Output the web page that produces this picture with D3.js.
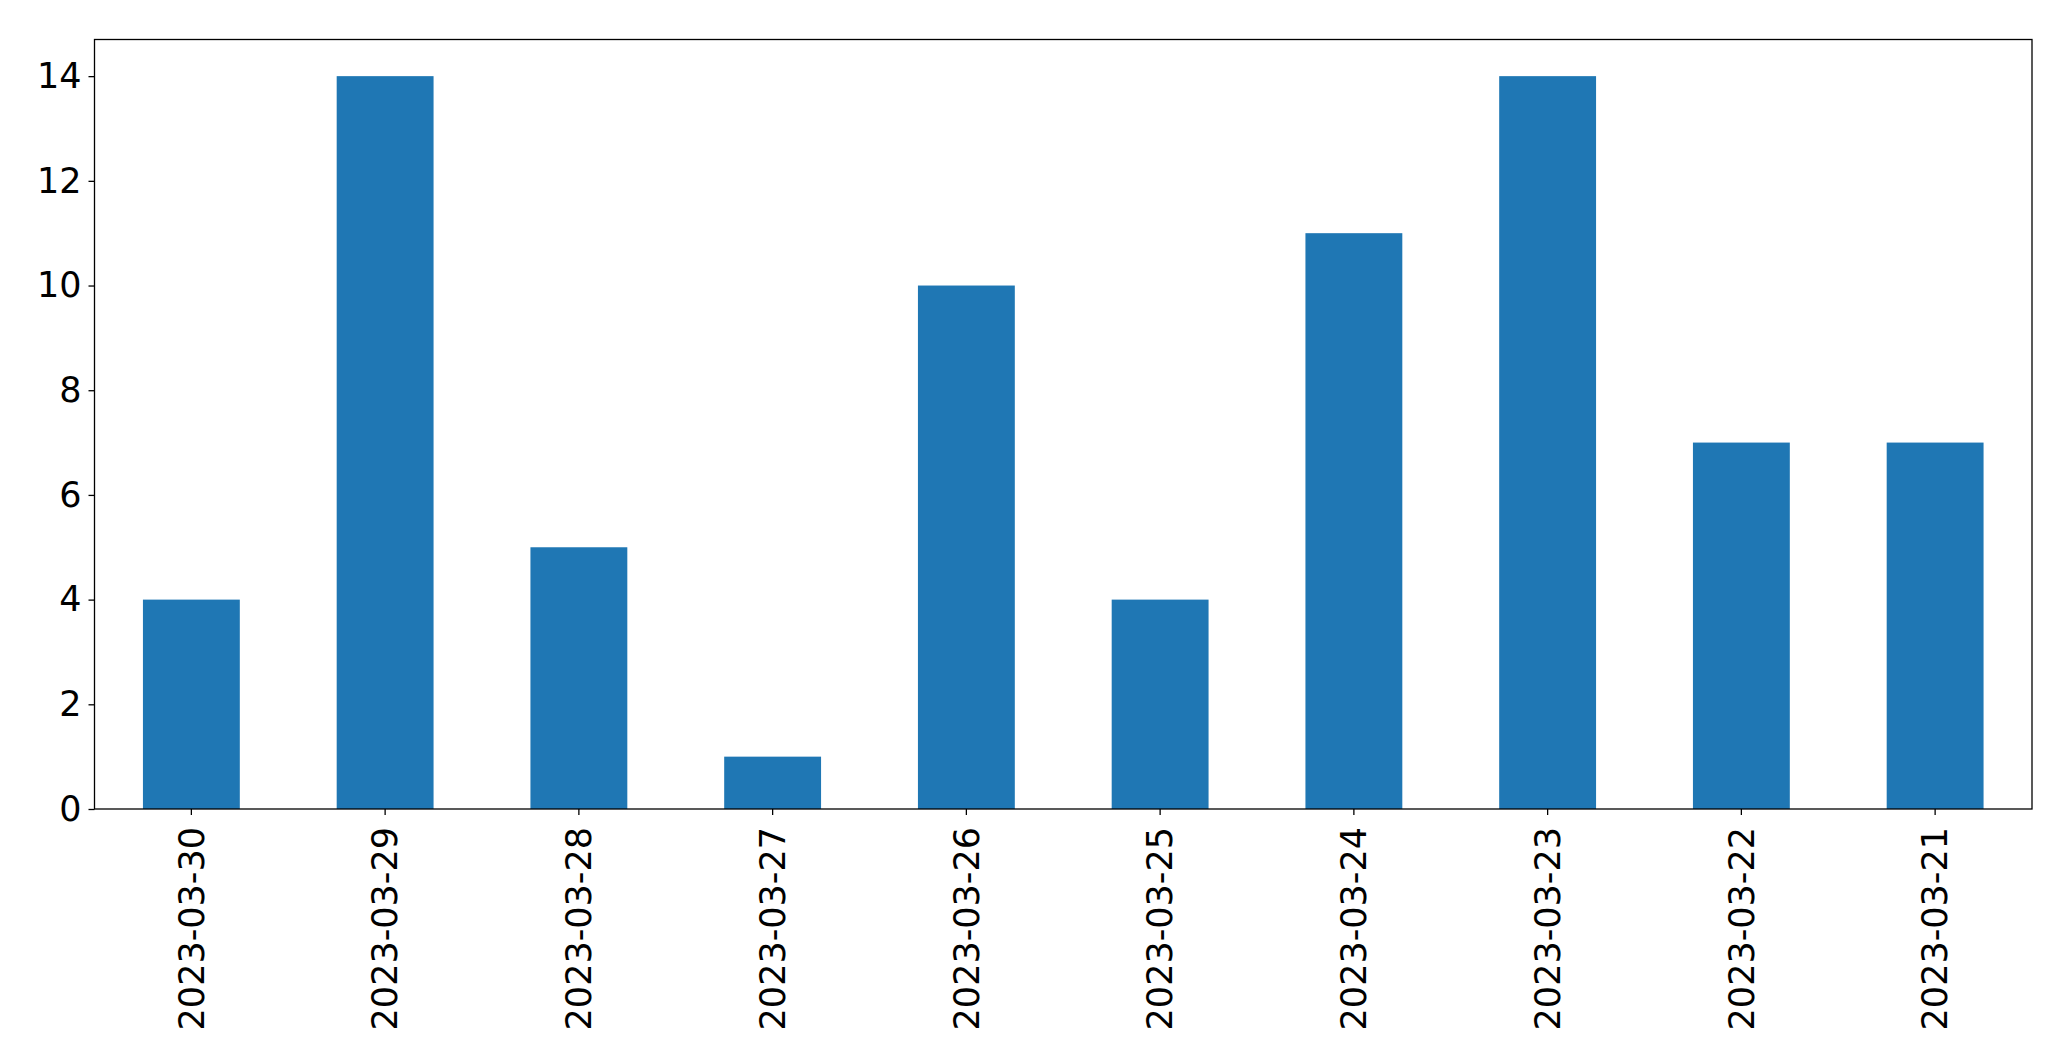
<!DOCTYPE html>
<html lang="en">
<head>
<meta charset="utf-8">
<title>Counts per day</title>
<script src="https://d3js.org/d3.v7.min.js"></script>
<style>
body { margin: 0; background: #fff; }
svg text { font-family: "DejaVu Sans", sans-serif; }
.bar { fill: #1f77b4; }
</style>
</head>
<body>
<svg id="svgMain" width="2071" height="1061"></svg>
<script>

// data
var dates = ["2023-03-30", "2023-03-29", "2023-03-28", "2023-03-27", "2023-03-26",
             "2023-03-25", "2023-03-24", "2023-03-23", "2023-03-22", "2023-03-21"];
var counts = [4, 14, 5, 1, 10, 4, 11, 14, 7, 7];
var yTicks = [0, 2, 4, 6, 8, 10, 12, 14];

var svg = d3.select("svg"),
    margin = {top: 39.5, right: 39, bottom: 252, left: 94.5},
    width = +svg.attr("width") - margin.left - margin.right,
    height = +svg.attr("height") - margin.top - margin.bottom;

var x = d3.scaleBand().domain(dates).range([0, width]).paddingInner(0.5).paddingOuter(0.25),
    y = d3.scaleLinear().domain([0, 14.7]).range([height, 0]);

var g = svg.append("g")
    .attr("transform", "translate(" + margin.left + "," + margin.top + ")");

g.selectAll(".bar")
  .data(counts)
  .enter().append("rect")
    .attr("class", "bar")
    .attr("x", function(d, i) { return x(dates[i]); })
    .attr("y", function(d) { return y(d); })
    .attr("width", x.bandwidth())
    .attr("height", function(d) { return height - y(d); });

// y axis
var yAxis = g.append("g")
    .call(d3.axisLeft(y).tickValues(yTicks).tickSize(6).tickPadding(7));
yAxis.select(".domain").remove();
yAxis.selectAll("line").attr("stroke", "#000").attr("stroke-width", 1.3);
yAxis.selectAll("text").attr("font-size", 35).attr("fill", "#000")
    .style("font-family", "'DejaVu Sans', sans-serif");

// x axis, labels turned upright
var xAxis = g.append("g")
    .attr("transform", "translate(0," + height + ")")
    .call(d3.axisBottom(x).tickSize(6));
xAxis.select(".domain").remove();
xAxis.selectAll("line").attr("stroke", "#000").attr("stroke-width", 1.3);
xAxis.selectAll("text")
    .attr("font-size", 35).attr("fill", "#000")
    .style("font-family", "'DejaVu Sans', sans-serif")
    .attr("transform", "rotate(-90)")
    .attr("x", -18)
    .attr("y", 0)
    .attr("dy", "0.35em")
    .attr("text-anchor", "end");

// frame
g.append("rect")
    .attr("width", width)
    .attr("height", height)
    .attr("fill", "none")
    .attr("stroke", "#000")
    .attr("stroke-width", 1.3);

</script>
</body>
</html>
